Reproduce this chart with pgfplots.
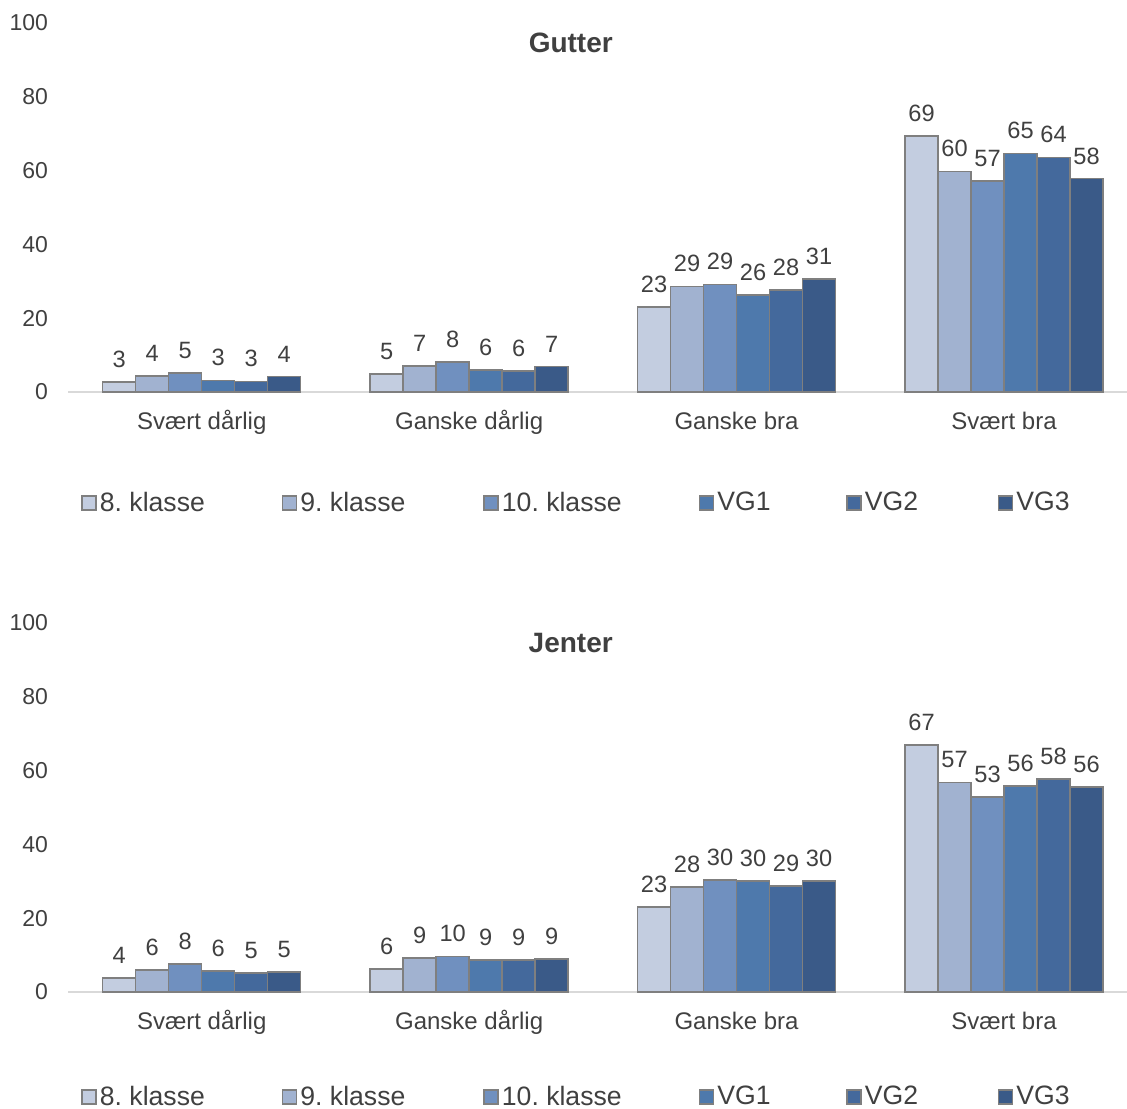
\documentclass[border=0pt]{standalone}
\usepackage{fontspec}
\setmainfont{Liberation Sans}
\usepackage{pgfplots}
\pgfplotsset{compat=1.18}
\usepackage{pgfplotstable}
\frenchspacing

\definecolor{cA}{HTML}{C3CDE0}
\definecolor{cB}{HTML}{A1B2D0}
\definecolor{cC}{HTML}{7090BF}
\definecolor{cD}{HTML}{4E79AC}
\definecolor{cE}{HTML}{44699C}
\definecolor{cF}{HTML}{3A5A88}
\definecolor{txt}{HTML}{404040}
\definecolor{edge}{HTML}{7F7F7F}
\definecolor{axl}{HTML}{D9D9D9}

\pgfplotstableread{
x a b c d e f
0 2.7 4.3 5.1 3.1 2.9 4.2
1 4.9 7.0 8.1 6.0 5.7 6.9
2 23.0 28.6 29.2 26.3 27.6 30.6
3 69.4 59.8 57.2 64.6 63.6 57.8
}\gutter

\pgfplotstableread{
x a b c d e f
0 3.8 6.0 7.6 5.7 5.1 5.4
1 6.2 9.2 9.6 8.7 8.7 8.9
2 23.0 28.4 30.4 30.1 28.7 30.1
3 66.9 56.8 52.8 55.8 57.7 55.6
}\jenter

\pgfplotsset{
 mychart/.style={
  width=529.5pt, height=184.5pt, scale only axis,
  ybar=0pt, bar width=0.1234,
  xmin=-0.5, xmax=3.46, ymin=0, ymax=100,
  xtick={0,1,2,3}, xticklabels={Svært dårlig, Ganske dårlig, Ganske bra, Svært bra},
  ytick={0,20,...,100},
  axis x line*=bottom, axis y line*=left,
  x axis line style={draw=axl, line width=0.75pt, -},
  y axis line style={draw=none},
  major tick length=0pt,
  tick style={draw=none},
  /pgf/number format/assume math mode=true,
  yticklabel style={font=\fontsize{11.5}{13}\selectfont, color=txt, xshift=-6.5pt},
  xticklabel style={font=\fontsize{12}{14}\selectfont, color=txt, yshift=-5.5pt, text height=0.95em, text depth=0.25em},
  nodes near coords={\pgfmathprintnumber[fixed,precision=0,assume math mode=true]{\pgfplotspointmeta}},
  nodes near coords style={font=\fontsize{11.8}{13}\selectfont, color=txt, yshift=3.5pt},
  every axis plot/.append style={draw=edge, line width=0.75pt},
  clip=false,
  legend columns=6,
  legend style={draw=none, fill=none, anchor=west, inner xsep=0pt, inner ysep=0pt,
    nodes={inner sep=0pt}, font=\fontsize{13.3}{15}\selectfont, text=txt,
    /tikz/every even column/.append style={column sep=0pt}},
  legend image code/.code={\draw[#1] (-0.8pt,-3.5pt) rectangle (6.2pt,3.5pt);},
 }
}

\newcommand{\mylegend}{\legend{
 {\hspace{1.5pt}\makebox[91pt][l]{8. klasse}},
 {\hspace{1.5pt}\makebox[91.5pt][l]{9. klasse}},
 {\hspace{1.5pt}\makebox[98.5pt][l]{10. klasse}},
 {\hspace{1.5pt}\makebox[64.5pt][l]{VG1}},
 {\hspace{1.5pt}\makebox[66.5pt][l]{VG2}},
 {\hspace{1.5pt}VG3}}}

\begin{document}
\begin{tikzpicture}
\begin{axis}[mychart, at={(0,0)}, anchor=south west, legend style={at={(0.0123,-0.3008)}}]
\addplot[fill=cA] table[x=x,y=a]{\gutter};
\addplot[fill=cB] table[x=x,y=b]{\gutter};
\addplot[fill=cC] table[x=x,y=c]{\gutter};
\addplot[fill=cD] table[x=x,y=d]{\gutter};
\addplot[fill=cE] table[x=x,y=e]{\gutter};
\addplot[fill=cF] table[x=x,y=f]{\gutter};
\mylegend
\node[font=\bfseries\fontsize{14}{16}\selectfont, text=txt] at (axis cs:1.38,94.6) {Gutter};
\end{axis}
\begin{axis}[mychart, at={(0,-300pt)}, anchor=south west, legend style={at={(0.0123,-0.2846)}}]
\addplot[fill=cA] table[x=x,y=a]{\jenter};
\addplot[fill=cB] table[x=x,y=b]{\jenter};
\addplot[fill=cC] table[x=x,y=c]{\jenter};
\addplot[fill=cD] table[x=x,y=d]{\jenter};
\addplot[fill=cE] table[x=x,y=e]{\jenter};
\addplot[fill=cF] table[x=x,y=f]{\jenter};
\mylegend
\node[font=\bfseries\fontsize{14}{16}\selectfont, text=txt] at (axis cs:1.38,94.6) {Jenter};
\end{axis}
\pgfresetboundingbox
\path[use as bounding box] (-34pt,-358pt) rectangle (529.5pt,196pt);
\end{tikzpicture}
\end{document}
